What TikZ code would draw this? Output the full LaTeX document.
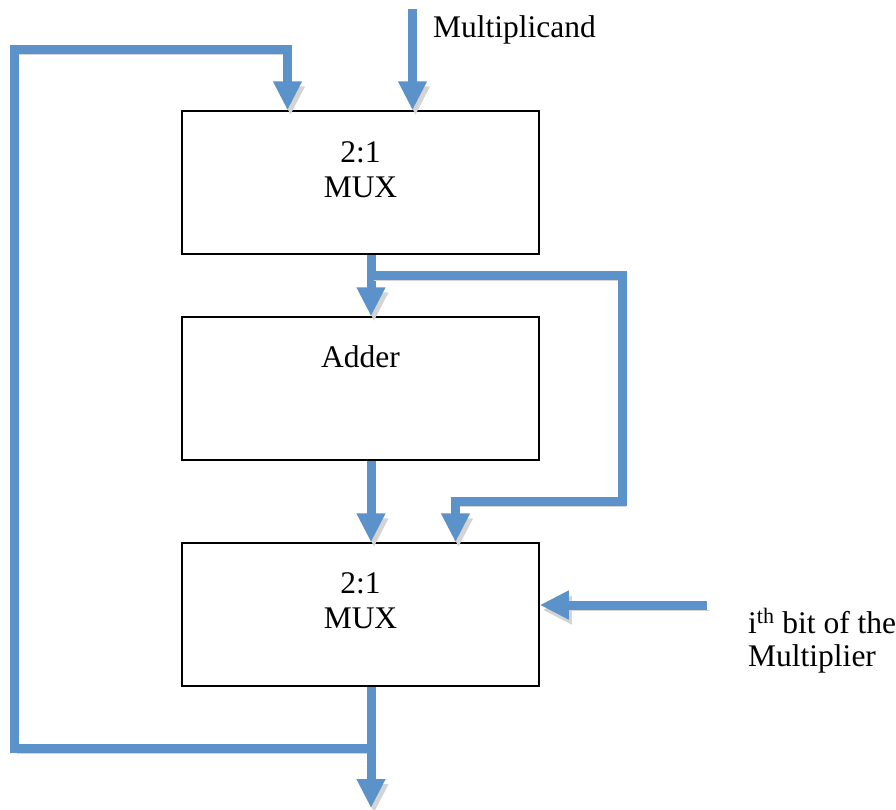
\documentclass[tikz,border=0pt]{standalone}
\usepackage{fontspec}
\setmainfont{Liberation Serif}
\usetikzlibrary{arrows.meta}
\definecolor{wire}{RGB}{91,146,202}
\definecolor{wireshadow}{RGB}{212,212,212}
\tikzset{
  box/.style={draw=black, line width=1.5pt, fill=white, rectangle,
    minimum width=357pt, minimum height=143pt, inner sep=0pt},
  lbl/.style={font=\fontsize{31.5}{35}\selectfont, inner sep=0pt},
  wirebase/.style={line width=9pt, line join=miter, line cap=butt},
  conn/.style={wirebase, draw=wire,
    -{Triangle[length=29pt,width=27pt]},
    preaction={draw=wireshadow, transform canvas={shift={(3pt,-5pt)}}}},
  plain/.style={wirebase, draw=wire,
    preaction={draw=wireshadow, transform canvas={shift={(3pt,-5pt)}}}},
}
\begin{document}
\begin{tikzpicture}[x=1pt, y=-1pt]
  \useasboundingbox (0,0) rectangle (896,809);

  % column and row guides for the wiring
  \coordinate (colL) at (14.5,0);
  \coordinate (colM) at (371,0);
  \coordinate (colF) at (287.5,0);
  \coordinate (colD) at (412.5,0);
  \coordinate (colB) at (455.5,0);
  \coordinate (colR) at (622.5,0);
  \coordinate (rowTop) at (0,49);
  \coordinate (rowBr) at (0,275);
  \coordinate (rowBr2) at (0,501);
  \coordinate (rowLoop) at (0,748);
  \coordinate (rowIn) at (0,605);
  \coordinate (mcIn) at (412.5,9);
  \coordinate (selIn) at (707,605);
  \coordinate (out) at (371,808);

  % blocks
  \node[box] (mux1) at (360.5,182.5) {};
  \node[box] (adder) at (360.5,388.5) {};
  \node[box] (mux2) at (360.5,614.5) {};

  % block labels
  \node[lbl, anchor=base] (m1a) at (360.5,162) {2:1};
  \node[lbl, anchor=base] (m1b) at (360.5,197) {MUX};
  \node[lbl, anchor=base] (add) at (360.5,367) {Adder};
  \node[lbl, anchor=base] (m2a) at (360.5,593) {2:1};
  \node[lbl, anchor=base] (m2b) at (360.5,628) {MUX};

  % external labels
  \node[lbl, anchor=base west] (mcand) at (433,37) {Multiplicand};
  \node[lbl, anchor=base west] (ibit) at (748,633) {i\textsuperscript{th} bit of the};
  \node[lbl, anchor=base west] (mplier) at (748,666) {Multiplier};

  % feedback loop from the output back into the first multiplexer
  \draw[plain] (mux2.south -| colM) -- (rowLoop -| colM);
  \draw[conn] (rowLoop -| colM) -- (rowLoop -| colL) -- (rowTop -| colL)
     -- (rowTop -| colF) -- (mux1.north -| colF);

  % multiplicand input
  \draw[conn] (mcIn) -- (mux1.north -| colD);

  % first multiplexer to adder, with bypass to second multiplexer
  \draw[conn] (mux1.south -| colM) -- (adder.north -| colM);
  \draw[conn] (rowBr -| colM) -- (rowBr -| colR) -- (rowBr2 -| colR)
     -- (rowBr2 -| colB) -- (mux2.north -| colB);

  % adder to second multiplexer
  \draw[conn] (adder.south -| colM) -- (mux2.north -| colM);

  % multiplier bit select
  \draw[conn] (selIn) -- (mux2.east |- rowIn);

  % result output
  \draw[conn] (rowLoop -| colM) -- (out);
\end{tikzpicture}
\end{document}
